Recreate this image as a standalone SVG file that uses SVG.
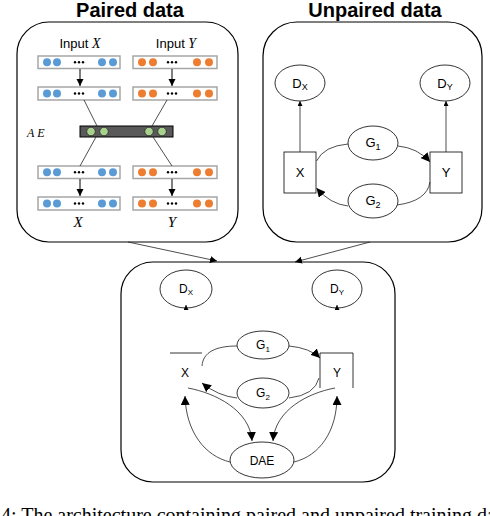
<svg xmlns="http://www.w3.org/2000/svg" width="490" height="516" viewBox="0 0 490 516">
<defs>
<style>
.panel{fill:none;stroke:#000;stroke-width:1.2}
.title{font-family:"Liberation Sans",Arial,sans-serif;font-weight:bold;font-size:20px;text-anchor:middle;fill:#000}
.lbl{font-family:"Liberation Sans",Arial,sans-serif;font-size:13px;text-anchor:middle;fill:#000}
.lbls{font-family:"Liberation Sans",Arial,sans-serif;font-size:12px;text-anchor:middle;fill:#000}
.it{font-family:"Liberation Serif","Times New Roman",serif;font-style:italic}
.node{fill:#fff;stroke:#000;stroke-width:0.8}
.box{fill:#fff;stroke:#a6a6a6;stroke-width:1.5}
.b{fill:#5b9bd5}
.o{fill:#ed7d31}
.g{fill:#a9d18e;stroke:#2a2a2a;stroke-width:0.8}
.dd{fill:#000}
.c{fill:none;stroke:#222;stroke-width:0.8}
.cs{fill:none;stroke:#000;stroke-width:1}
.cap{font-family:"Liberation Serif","Times New Roman",serif;font-size:20px;fill:#000}
</style>
<marker id="ah" markerUnits="userSpaceOnUse" markerWidth="10" markerHeight="9" refX="9" refY="4.5" orient="auto"><path d="M0,0 L9,4.5 L0,9 z" fill="#000"/></marker>
<marker id="am" markerUnits="userSpaceOnUse" markerWidth="8" markerHeight="8" refX="7" refY="3.5" orient="auto"><path d="M0,0 L7,3.5 L0,7 z" fill="#000"/></marker>
<marker id="as" markerUnits="userSpaceOnUse" markerWidth="6" markerHeight="6" refX="5" refY="2.5" orient="auto"><path d="M0,0 L5,2.5 L0,5 z" fill="#000"/></marker>
<g id="dotsB">
<circle class="b" cx="9" cy="0" r="4"/><circle class="b" cx="19" cy="0" r="4"/>
<circle class="dd" cx="37" cy="0" r="1.2"/><circle class="dd" cx="41" cy="0" r="1.2"/><circle class="dd" cx="45" cy="0" r="1.2"/>
<circle class="b" cx="64" cy="0" r="4"/><circle class="b" cx="75" cy="0" r="4"/>
</g>
<g id="dotsO">
<circle class="o" cx="9" cy="0" r="4"/><circle class="o" cx="20" cy="0" r="4"/>
<circle class="dd" cx="35" cy="0" r="1.2"/><circle class="dd" cx="39" cy="0" r="1.2"/><circle class="dd" cx="43" cy="0" r="1.2"/>
<circle class="o" cx="64" cy="0" r="4"/><circle class="o" cx="76" cy="0" r="4"/>
</g>
</defs>
<rect width="490" height="516" fill="#fff"/>

<!-- Titles -->
<text class="title" x="130" y="17">Paired data</text>
<text class="title" x="375" y="17">Unpaired data</text>

<!-- Panels -->
<g id="panel-paired">
<rect class="panel" x="17" y="22" width="221" height="220" rx="32" ry="32"/>
<text class="lbl" x="80" y="48">Input <tspan class="it" font-size="14">X</tspan></text>
<text class="lbl" x="176" y="48">Input <tspan class="it" font-size="14">Y</tspan></text>
<g id="row1">
<rect class="box" x="38" y="56" width="82" height="12.5"/><use href="#dotsB" x="38" y="62.2"/>
<rect class="box" x="133" y="56" width="84" height="12.5"/><use href="#dotsO" x="133" y="62.2"/>
</g>
<g id="row2">
<rect class="box" x="38" y="87" width="82" height="13"/><use href="#dotsB" x="38" y="93.5"/>
<rect class="box" x="133" y="87" width="84" height="13"/><use href="#dotsO" x="133" y="93.5"/>
</g>
<g id="ae">
<rect x="80" y="126" width="93" height="11" fill="#595959" stroke="#000" stroke-width="1"/>
<circle class="g" cx="91" cy="131.5" r="4.3"/><circle class="g" cx="104" cy="131.5" r="4.3"/>
<circle class="g" cx="149" cy="131.5" r="4.3"/><circle class="g" cx="162" cy="131.5" r="4.3"/>
<text class="it" x="27" y="137" font-size="12" letter-spacing="3" fill="#000">AE</text>
</g>
<g id="row3">
<rect class="box" x="38" y="166" width="82" height="12.5"/><use href="#dotsB" x="38" y="172.2"/>
<rect class="box" x="133" y="166" width="84" height="12.5"/><use href="#dotsO" x="133" y="172.2"/>
</g>
<g id="row4">
<rect class="box" x="38" y="197" width="82" height="13"/><use href="#dotsB" x="38" y="203.5"/>
<rect class="box" x="133" y="197" width="84" height="13"/><use href="#dotsO" x="133" y="203.5"/>
</g>
<text class="it" x="78" y="227" font-size="15" text-anchor="middle" fill="#000">X</text>
<text class="it" x="172" y="227" font-size="15" text-anchor="middle" fill="#000">Y</text>
</g>

<g id="panel-unpaired">
<rect class="panel" x="263" y="22" width="219" height="220" rx="34" ry="34"/>
</g>
<g id="u-Dx"><ellipse class="node" cx="300" cy="83" rx="25" ry="18"/><text class="lbl" x="300" y="88">D<tspan font-size="9" dy="2">X</tspan></text></g>
<g id="u-Dy"><ellipse class="node" cx="445" cy="83" rx="25" ry="18"/><text class="lbl" x="445" y="88">D<tspan font-size="9" dy="2">Y</tspan></text></g>
<g id="u-G1"><ellipse class="node" cx="373" cy="143" rx="25" ry="17"/><text class="lbl" x="373" y="147">G<tspan font-size="9" dy="3">1</tspan></text></g>
<g id="u-G2"><ellipse class="node" cx="373" cy="201" rx="25" ry="17"/><text class="lbl" x="373" y="205">G<tspan font-size="9" dy="3">2</tspan></text></g>
<g id="u-X"><rect class="node" x="284" y="152" width="32" height="41"/><text class="lbl" x="300" y="177">X</text></g>
<g id="u-Y"><rect class="node" x="430" y="152" width="32" height="41"/><text class="lbl" x="446" y="177">Y</text></g>

<g id="panel-combined">
<rect class="panel" x="121" y="262" width="274" height="220" rx="32" ry="32"/>
</g>
<g id="c-Dx"><ellipse class="node" cx="186" cy="289" rx="26" ry="19"/><text class="lbls" x="186" y="293">D<tspan font-size="8" dy="2">X</tspan></text></g>
<g id="c-Dy"><ellipse class="node" cx="337" cy="289" rx="25" ry="19"/><text class="lbls" x="337" y="293">D<tspan font-size="8" dy="2">Y</tspan></text></g>
<g id="c-G1"><ellipse class="node" cx="263" cy="345" rx="26" ry="14"/><text class="lbls" x="263" y="349">G<tspan font-size="8" dy="3">1</tspan></text></g>
<g id="c-G2"><ellipse class="node" cx="263" cy="393" rx="26" ry="15"/><text class="lbls" x="263" y="397">G<tspan font-size="8" dy="3">2</tspan></text></g>
<g id="c-X"><line x1="170" y1="353" x2="202" y2="353" stroke="#000" stroke-width="0.8"/><text class="lbls" x="185" y="377">X</text></g>
<g id="c-Y"><path d="M320,388 V353 H353 V388" fill="none" stroke="#000" stroke-width="0.8"/><text class="lbls" x="337" y="377">Y</text></g>
<g id="c-DAE"><ellipse class="node" cx="262" cy="460" rx="32" ry="18"/><text class="lbls" x="262" y="465">DAE</text></g>

<!-- Caption (cut off) -->
<text class="cap" x="1" y="522">4: The architecture containing paired and unpaired training data</text>

<g id="connectors">
<!-- paired -->
<line class="cs" x1="80" y1="69" x2="80" y2="86" marker-end="url(#am)"/>
<line class="cs" x1="172" y1="69" x2="172" y2="86" marker-end="url(#am)"/>
<line class="cs" x1="80" y1="179" x2="80" y2="196" marker-end="url(#am)"/>
<line class="cs" x1="172" y1="179" x2="172" y2="196" marker-end="url(#am)"/>
<line class="c" x1="84" y1="100" x2="97" y2="126"/>
<line class="c" x1="167" y1="100" x2="152" y2="126"/>
<line class="c" x1="96" y1="137" x2="80" y2="166"/>
<line class="c" x1="153" y1="137" x2="172" y2="166"/>
<!-- unpaired -->
<line class="c" x1="300" y1="152" x2="300" y2="101" marker-end="url(#as)"/>
<line class="c" x1="446" y1="152" x2="446" y2="101" marker-end="url(#as)"/>
<path class="c" d="M316.5,161 Q324,146 348,144"/>
<path class="c" d="M398,146 Q418,148 430,162" marker-end="url(#ah)"/>
<path class="c" d="M397,205 Q427,201 430,182"/>
<path class="c" d="M348,206 Q330,204 316.5,188" marker-end="url(#ah)"/>
<!-- between panels -->
<line class="c" x1="128" y1="242" x2="217" y2="261" marker-end="url(#am)"/>
<line class="c" x1="370" y1="242" x2="295" y2="262" marker-end="url(#am)"/>
<!-- combined -->
<line class="c" x1="186" y1="309" x2="186" y2="305" marker-end="url(#as)"/>
<line class="c" x1="337" y1="309" x2="337" y2="305" marker-end="url(#as)"/>
<path class="c" d="M237,346 C216,346 203,352 202,366"/>
<path class="c" d="M289,346 Q310,348 320,358" marker-end="url(#ah)"/>
<path class="c" d="M289,398 Q315,395 319,378"/>
<path class="c" d="M237,398 Q218,396 202,383" marker-end="url(#ah)"/>
<path class="c" d="M230,462 C205,456 186,432 185,396" marker-end="url(#ah)"/>
<path class="c" d="M294,462 C319,456 337,432 337,396" marker-end="url(#ah)"/>
<path class="c" d="M188,388 C215,393 250,410 252,441" marker-end="url(#ah)"/>
<path class="c" d="M335,388 C308,393 275,410 273,441" marker-end="url(#ah)"/>
</g>
</svg>
